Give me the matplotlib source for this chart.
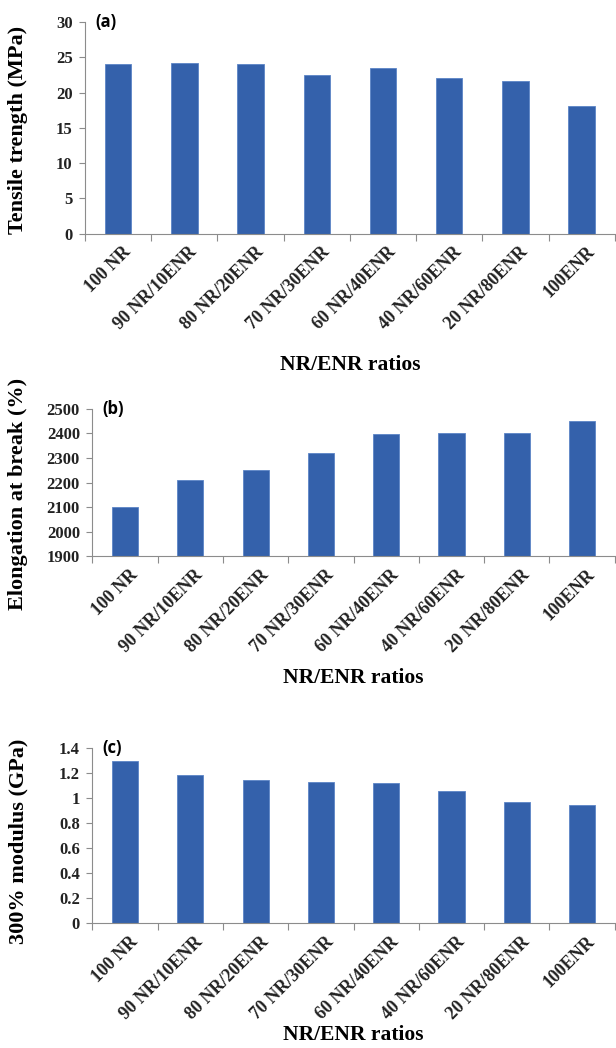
import numpy as np
import matplotlib.pyplot as plt
import matplotlib.transforms as mtransforms
from matplotlib.ticker import FixedLocator

# ---- data ----
ratios = ["100 NR", "90 NR/10ENR", "80 NR/20ENR", "70 NR/30ENR",
          "60 NR/40ENR", "40 NR/60ENR", "20 NR/80ENR", "100ENR"]
tensile = [24.0, 24.2, 24.0, 22.5, 23.5, 22.1, 21.6, 18.1]
elongation = [2100, 2210, 2250, 2320, 2397, 2400, 2403, 2450]
modulus = [1.30, 1.19, 1.15, 1.13, 1.12, 1.06, 0.97, 0.95]

BAR_COLOR = "#3461ab"
SPINE = "#8c8c8c"
SERIF = "Liberation Serif"

fig = plt.figure(figsize=(6.16, 10.48), dpi=100)
fig.patch.set_facecolor("white")

panels = [
    # values, ylim, ticks, ylabel, letter, axes rect, xlabel y, ylabel y (axes frac)
    (tensile, (0, 30), [0, 5, 10, 15, 20, 25, 30],
     "Tensile trength (MPa)", "(a)", [0.138, 0.777, 0.860, 0.202], -0.62, 0.49),
    (elongation, (1900, 2500), [1900, 2000, 2100, 2200, 2300, 2400, 2500],
     "Elongation at break (%)", "(b)", [0.150, 0.469, 0.848, 0.141], -0.82, 0.42),
    (modulus, (0, 1.4), [0, 0.2, 0.4, 0.6, 0.8, 1.0, 1.2, 1.4],
     "300% modulus (GPa)", "(c)", [0.150, 0.119, 0.848, 0.167], -0.64, 0.47),
]

x = np.arange(len(ratios))
shift = mtransforms.ScaledTranslation(3 / 72, 0, fig.dpi_scale_trans)

for vals, ylim, yt, ylab, letter, rect, xl_y, yl_y in panels:
    ax = fig.add_axes(rect)
    ax.bar(x, vals, width=0.4, color=BAR_COLOR, edgecolor="#5b84c6",
           linewidth=0.6, zorder=2)
    ax.set_xlim(-0.5, len(ratios) - 0.5)
    ax.set_ylim(*ylim)

    ax.set_yticks(yt)
    ax.set_yticklabels([f"{v:g}" for v in yt])
    ax.set_xticks(x)
    ax.set_xticklabels(ratios, rotation=45, ha="right", rotation_mode="anchor")
    ax.xaxis.set_minor_locator(FixedLocator(np.arange(-0.5, len(ratios), 1.0)))

    ax.tick_params(axis="x", which="major", length=0, pad=7)
    ax.tick_params(axis="x", which="minor", length=5, color=SPINE, width=0.8)
    ax.tick_params(axis="y", length=4, color=SPINE, width=0.8, pad=5)
    for lbl in ax.get_xticklabels():
        lbl.set_transform(lbl.get_transform() + shift)
        lbl.set_fontsize(13)
    for lbl in ax.get_yticklabels():
        lbl.set_fontsize(12)
    for lbl in ax.get_xticklabels() + ax.get_yticklabels():
        lbl.set_fontfamily(SERIF)
        lbl.set_fontweight("bold")
        lbl.set_color("#222222")

    for side in ["top", "right"]:
        ax.spines[side].set_visible(False)
    for side in ["left", "bottom"]:
        ax.spines[side].set_color(SPINE)
        ax.spines[side].set_linewidth(0.8)

    ax.set_ylabel(ylab, fontfamily=SERIF, fontweight="bold", fontsize=16)
    ax.yaxis.set_label_coords((18 - rect[0] * 616) / (rect[2] * 616), yl_y)
    ax.yaxis.label.set_va("center")
    ax.set_xlabel("NR/ENR ratios", fontfamily=SERIF, fontweight="bold",
                  fontsize=15.5)
    ax.xaxis.set_label_coords(0.5, xl_y)
    ax.xaxis.label.set_va("center")
    ax.text(0.02, 1.0, letter, transform=ax.transAxes, ha="left", va="center",
            fontfamily="Open Sans", fontweight="bold", fontsize=12)

fig.savefig("out.png", dpi=100, facecolor="white")
